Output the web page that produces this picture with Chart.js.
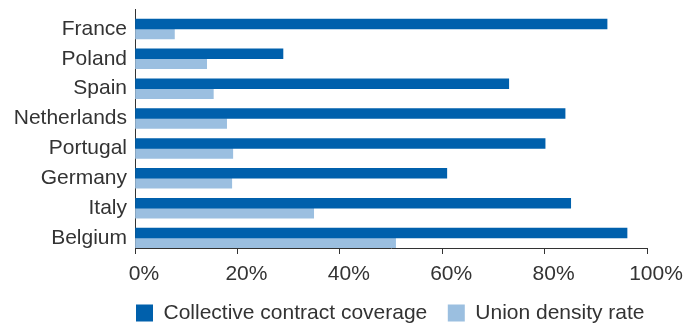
<!DOCTYPE html>
<html>
<head>
<meta charset="utf-8">
<title>Collective contract coverage and union density</title>
<script src="https://cdn.jsdelivr.net/npm/chart.js@4.4.1/dist/chart.umd.min.js"></script>
<style>
    html, body { margin: 0; padding: 0; background: #fff; overflow: hidden; }
    #chart-wrap { position: relative; width: 688px; height: 324px; }
</style>
</head>
<body>
<div id="chart-wrap"><canvas id="coverageChart"></canvas></div>
<script>
"use strict";

// Countries, top to bottom
const countries = ["France", "Poland", "Spain", "Netherlands", "Portugal", "Germany", "Italy", "Belgium"];
// Share of employees covered by a collective agreement (%)
const contractCoverage = [92.2, 28.9, 73.0, 84.0, 80.1, 60.9, 85.1, 96.1];
// Share of employees who are union members (%)
const unionDensity = [7.7, 14.0, 15.3, 17.9, 19.1, 18.9, 34.9, 50.9];
// Values shown on the percentage axis
const percentTicks = [0, 20, 40, 60, 80, 100];

const seriesNames = ["Collective contract coverage", "Union density rate"];

(function(){
    const TEXT_COLOR = "#333333";
    const AXIS_COLOR = "#333333";
    const DARK_BLUE = "#0060ac";
    const LIGHT_BLUE = "#9bbfe0";
    const FONT_FAMILY = "'Liberation Sans', Arial, sans-serif";

    const PLOT_LEFT = 135;     // where the country axis sits
    const PLOT_BOTTOM = 248;   // where the percentage axis sits
    const LEGEND_ROW_TOP = 302.5;

    /**
     * The built-in legend lays itself out across the whole canvas; move it so the
     * first swatch lines up with the value axis and sits right under the tick labels.
     */
    const legendPlacer = {
        id: "legendPlacer",
        afterLayout(chart) {
            const legend = chart.legend;
            const pad = legend.options.labels.padding;
            legend.left = chart.chartArea.left + 1 - pad;
            legend.right = chart.width;
            legend.top = LEGEND_ROW_TOP - pad;
        }
    };

    function createChart() {
        const ctx = document.getElementById("coverageChart").getContext("2d");
        return new Chart(ctx, {
            type: "bar",
            data: {
                labels: countries,
                datasets: [{
                    // empty slot that pushes each pair of bars down inside its row
                    label: "",
                    data: countries.map(() => null),
                    backgroundColor: "rgba(0,0,0,0)"
                }, {
                    label: seriesNames[0],
                    data: contractCoverage,
                    backgroundColor: DARK_BLUE
                }, {
                    label: seriesNames[1],
                    data: unionDensity,
                    backgroundColor: LIGHT_BLUE
                }]
            },
            options: {
                indexAxis: "y",
                responsive: true,
                maintainAspectRatio: false,
                animation: false,
                datasets: {
                    bar: {
                        categoryPercentage: 1.0,
                        barPercentage: 1.0,
                        borderWidth: 0
                    }
                },
                layout: {
                    padding: { left: 0, right: 41, top: 9, bottom: 0 }
                },
                scales: {
                    x: {
                        min: 0,
                        max: 100,
                        afterBuildTicks: (scale) => {
                            scale.ticks = percentTicks.map(v => ({ value: v }));
                        },
                        afterFit: (scale) => {
                            // legend is placed by hand, so the axis takes everything below the plot
                            scale.height = scale.chart.height - PLOT_BOTTOM - scale.chart.legend.height;
                            scale.paddingLeft = 0;
                            scale.paddingRight = 0;
                        },
                        grid: {
                            drawOnChartArea: false,
                            drawTicks: true,
                            tickLength: 6,
                            tickColor: AXIS_COLOR,
                            tickWidth: 1
                        },
                        border: { display: true, color: AXIS_COLOR, width: 1 },
                        ticks: {
                            callback: (value) => value + "%",
                            color: TEXT_COLOR,
                            font: { family: FONT_FAMILY, size: 21 },
                            padding: 8,
                            labelOffset: 9,
                            maxRotation: 0,
                            autoSkip: false
                        }
                    },
                    y: {
                        afterFit: (scale) => {
                            scale.width = PLOT_LEFT;
                            scale.paddingTop = 0;
                            scale.paddingBottom = 0;
                        },
                        grid: { display: false, drawTicks: false },
                        border: { display: true, color: AXIS_COLOR, width: 1 },
                        ticks: {
                            color: TEXT_COLOR,
                            font: { family: FONT_FAMILY, size: 21 },
                            padding: 8,
                            labelOffset: 5,
                            autoSkip: false
                        }
                    }
                },
                plugins: {
                    legend: {
                        position: "bottom",
                        align: "start",
                        maxHeight: 1,
                        labels: {
                            filter: (item) => item.text !== "",
                            color: TEXT_COLOR,
                            font: { family: FONT_FAMILY, size: 21 },
                            boxWidth: 17,
                            boxHeight: 17,
                            padding: 20.5
                        }
                    },
                    tooltip: { enabled: false }
                }
            },
            plugins: [legendPlacer]
        });
    }

    createChart();
})();
</script>
</body>
</html>
